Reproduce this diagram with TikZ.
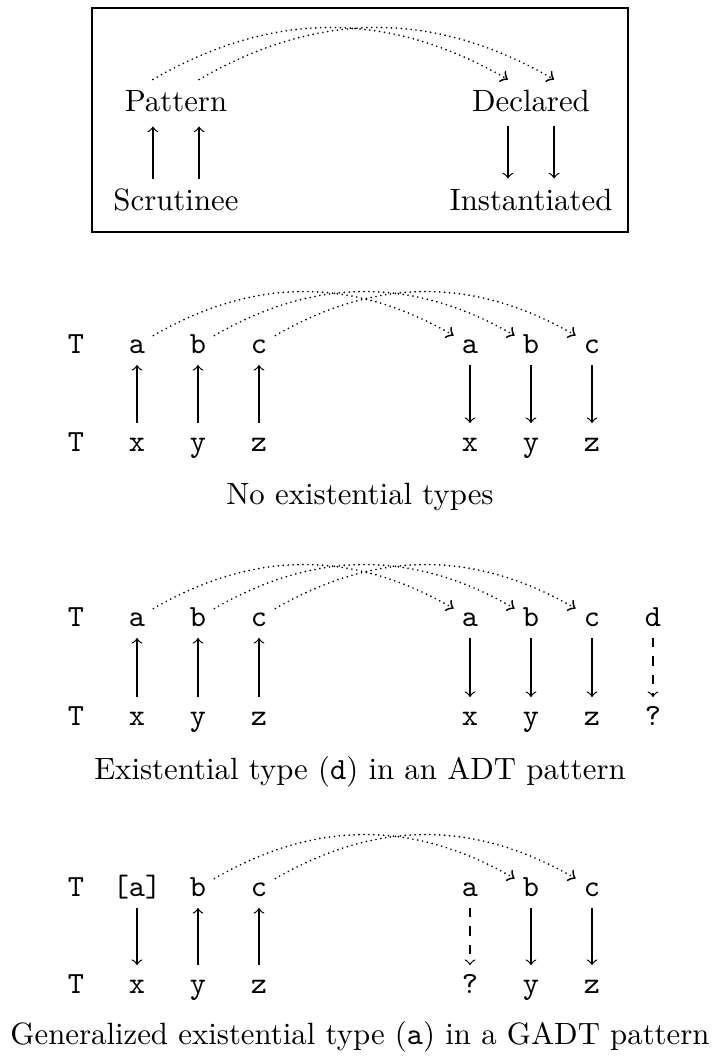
\documentclass[tikz,border=0pt]{standalone}
\usetikzlibrary{fit}

\begin{document}
\begin{tikzpicture}[x=0.3247pt, y=-0.3247pt,
  tyvar/.style={font=\ttfamily, text height=1.5ex, text depth=.25ex, inner sep=2.5pt},
  word/.style={text height=1.6ex, text depth=.3ex},
  flow/.style={->},
  guess/.style={->, dashed},
  link/.style={->, line width=0.6pt, line cap=round, dash pattern=on 0pt off 1.6pt, bend left=30}]
\useasboundingbox (0,0) rectangle (720,1057);

% legend box
\node[word] (pat) at (176,103) {Pattern};
\node[word] (scr) at (176,202) {Scrutinee};
\node[word] (dec) at (531,103) {Declared};
\node[word] (ins) at (531,202) {Instantiated};
\node[draw, inner sep=0pt, fit={(92,8) (628,232)}] (legend) {};
\draw[flow] ([xshift=-7.5pt]scr.north) -- ([xshift=-7.5pt]pat.south);
\draw[flow] ([xshift=7.5pt]scr.north) -- ([xshift=7.5pt]pat.south);
\draw[flow] ([xshift=-7.5pt]dec.south) -- ([xshift=-7.5pt]ins.north);
\draw[flow] ([xshift=7.5pt]dec.south) -- ([xshift=7.5pt]ins.north);
\draw[link] ([xshift=-7.5pt]pat.north) to ([xshift=-7.5pt]dec.north);
\draw[link] ([xshift=7.5pt]pat.north) to ([xshift=7.5pt]dec.north);

% no existential types
\node[tyvar] (t1) at (76,345) {T};
\node[tyvar] (a1) at (137,345) {a};
\node[tyvar] (b1) at (198,345) {b};
\node[tyvar] (c1) at (259,345) {c};
\node[tyvar] (ra1) at (470,345) {a};
\node[tyvar] (rb1) at (531,345) {b};
\node[tyvar] (rc1) at (592,345) {c};
\node[tyvar] (u1) at (76,443) {T};
\node[tyvar] (x1) at (137,443) {x};
\node[tyvar] (y1) at (198,443) {y};
\node[tyvar] (z1) at (259,443) {z};
\node[tyvar] (rx1) at (470,443) {x};
\node[tyvar] (ry1) at (531,443) {y};
\node[tyvar] (rz1) at (592,443) {z};
\node (cap1) at (360,497) {No existential types};
\draw[flow] (x1) -- (a1);
\draw[flow] (y1) -- (b1);
\draw[flow] (z1) -- (c1);
\draw[flow] (ra1) -- (rx1);
\draw[flow] (rb1) -- (ry1);
\draw[flow] (rc1) -- (rz1);
\draw[link] (a1) to (ra1);
\draw[link] (b1) to (rb1);
\draw[link] (c1) to (rc1);

% existential type in an ADT
\node[tyvar] (t2) at (76,618) {T};
\node[tyvar] (a2) at (137,618) {a};
\node[tyvar] (b2) at (198,618) {b};
\node[tyvar] (c2) at (259,618) {c};
\node[tyvar] (ra2) at (470,618) {a};
\node[tyvar] (rb2) at (531,618) {b};
\node[tyvar] (rc2) at (592,618) {c};
\node[tyvar] (rd2) at (653,618) {d};
\node[tyvar] (u2) at (76,717) {T};
\node[tyvar] (x2) at (137,717) {x};
\node[tyvar] (y2) at (198,717) {y};
\node[tyvar] (z2) at (259,717) {z};
\node[tyvar] (rx2) at (470,717) {x};
\node[tyvar] (ry2) at (531,717) {y};
\node[tyvar] (rz2) at (592,717) {z};
\node[tyvar] (rq2) at (653,717) {?};
\node (cap2) at (360,772) {Existential type (\texttt{d}) in an ADT pattern};
\draw[flow] (x2) -- (a2);
\draw[flow] (y2) -- (b2);
\draw[flow] (z2) -- (c2);
\draw[flow] (ra2) -- (rx2);
\draw[flow] (rb2) -- (ry2);
\draw[flow] (rc2) -- (rz2);
\draw[guess] (rd2) -- (rq2);
\draw[link] (a2) to (ra2);
\draw[link] (b2) to (rb2);
\draw[link] (c2) to (rc2);

% generalized existential type in a GADT
\node[tyvar] (t3) at (76,888) {T};
\node[tyvar] (a3) at (137,888) {[a]};
\node[tyvar] (b3) at (198,888) {b};
\node[tyvar] (c3) at (259,888) {c};
\node[tyvar] (ra3) at (470,888) {a};
\node[tyvar] (rb3) at (531,888) {b};
\node[tyvar] (rc3) at (592,888) {c};
\node[tyvar] (u3) at (76,985) {T};
\node[tyvar] (x3) at (137,985) {x};
\node[tyvar] (y3) at (198,985) {y};
\node[tyvar] (z3) at (259,985) {z};
\node[tyvar] (rq3) at (470,985) {?};
\node[tyvar] (ry3) at (531,985) {y};
\node[tyvar] (rz3) at (592,985) {z};
\node (cap3) at (360,1037) {Generalized existential type (\texttt{a}) in a GADT pattern};
\draw[flow] (a3) -- (x3);
\draw[flow] (y3) -- (b3);
\draw[flow] (z3) -- (c3);
\draw[guess] (ra3) -- (rq3);
\draw[flow] (rb3) -- (ry3);
\draw[flow] (rc3) -- (rz3);
\draw[link] (b3) to (rb3);
\draw[link] (c3) to (rc3);
\end{tikzpicture}
\end{document}
